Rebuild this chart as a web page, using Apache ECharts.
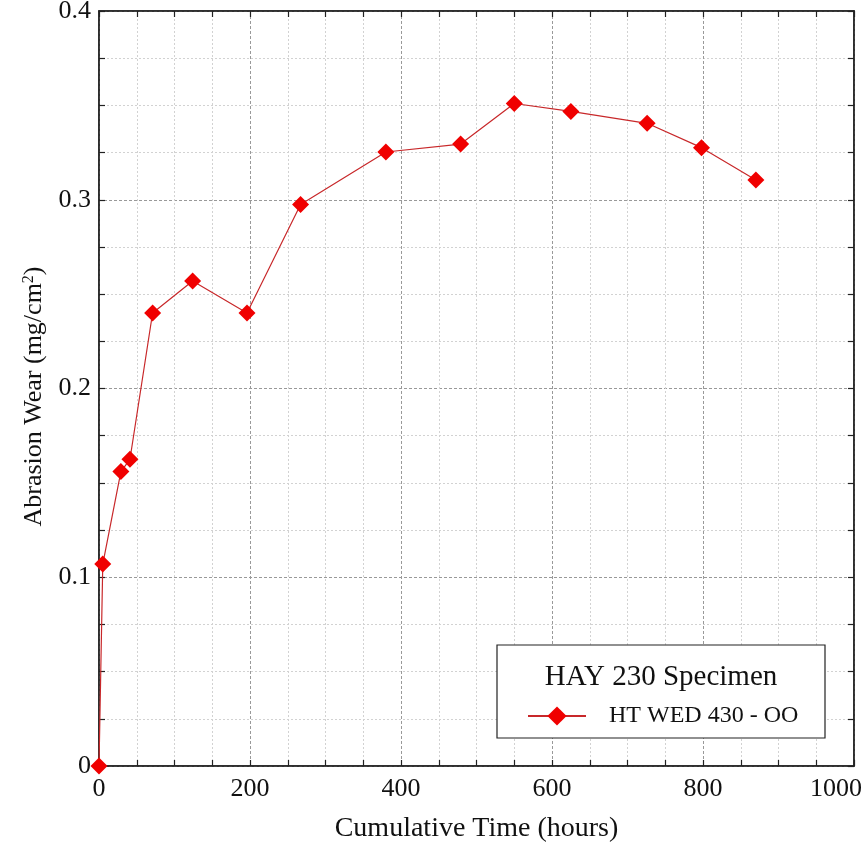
<!DOCTYPE html>
<html>
<head>
<meta charset="utf-8">
<script src="https://cdn.jsdelivr.net/npm/echarts@6/dist/echarts.min.js"></script>
<style>html,body{margin:0;padding:0;background:#fff;}#c{width:867px;height:847px;}</style>
</head>
<body>
<div id="c"></div>
<script>
var timeHours = [0, 5, 29, 41, 71, 124, 196, 267, 380, 479, 550, 625, 726, 798, 870];
var abrasionWear = [0, 0.107, 0.156, 0.1625, 0.24, 0.257, 0.24, 0.2975, 0.3253, 0.3295, 0.351, 0.3468, 0.3405, 0.3276, 0.3105];
var seriesName = 'HT WED 430 - OO';
var legendTitle = 'HAY 230 Specimen';
var xTitle = 'Cumulative Time (hours)';

var font = '"Liberation Serif","Times New Roman",serif';
var chart = echarts.init(document.getElementById('c'), null, {renderer: 'canvas'});
var pts = timeHours.map(function (t, i) { return [t, abrasionWear[i]]; });

var majorSplit = {show: true, lineStyle: {color: '#999999', type: [3, 2], width: 1}};
var minorSplit = {show: true, lineStyle: {color: '#d2d2d2', type: [2, 2], width: 1}};
function tick() { return {show: true, inside: true, length: 6, lineStyle: {color: '#222', width: 1.2}}; }
function minorTick() { return {show: true, splitNumber: 4, length: 6, lineStyle: {color: '#222', width: 1.2}}; }
function axLine() { return {show: true, onZero: false, lineStyle: {color: '#222', width: 1.5}}; }

chart.setOption({
  backgroundColor: '#fff',
  animation: false,
  grid: {left: 99, top: 11, width: 755, height: 755, outerBoundsMode: 'none', containLabel: false,
    show: true, borderColor: '#222', borderWidth: 1.5, backgroundColor: 'transparent'},
  xAxis: [{
    type: 'value', min: 0, max: 1000, interval: 200, position: 'bottom',
    name: xTitle, nameLocation: 'middle', nameGap: 49,
    nameTextStyle: {fontFamily: font, fontSize: 28, color: '#111'},
    axisLine: axLine(), axisTick: tick(), minorTick: minorTick(),
    axisLabel: {fontFamily: font, fontSize: 26, color: '#111', margin: 10,
      formatter: function (v) { return v === 1000 ? '{r|' + v + '}' : String(v); },
      rich: {r: {fontFamily: font, fontSize: 26, color: '#111', padding: [0, 36, 0, 0]}}},
    splitLine: majorSplit, minorSplitLine: minorSplit
  }, {
    type: 'value', min: 0, max: 1000, interval: 200, position: 'top',
    axisLine: axLine(), axisTick: tick(), minorTick: minorTick(), axisLabel: {show: false},
    splitLine: {show: false}
  }],
  yAxis: [{
    type: 'value', min: 0, max: 0.4, interval: 0.1, position: 'left',
    name: 'Abrasion Wear (mg/cm{sup|2})', nameLocation: 'middle', nameGap: 50,
    nameTextStyle: {fontFamily: font, fontSize: 26, color: '#111', padding: [0, 16, 0, 0],
      rich: {sup: {fontFamily: font, fontSize: 16, color: '#111', verticalAlign: 'bottom', padding: [0, 0, 12, 0]}}},
    axisLine: axLine(), axisTick: tick(), minorTick: minorTick(),
    axisLabel: {fontFamily: font, fontSize: 26, color: '#111', margin: 8},
    splitLine: majorSplit, minorSplitLine: minorSplit
  }, {
    type: 'value', min: 0, max: 0.4, interval: 0.1, position: 'right',
    axisLine: axLine(), axisTick: tick(), minorTick: minorTick(), axisLabel: {show: false},
    splitLine: {show: false}
  }],
  legend: {
    show: true, z: 100, left: 522, top: 699, itemWidth: 58, itemHeight: 24,
    data: [seriesName],
    textStyle: {fontFamily: font, fontSize: 24, color: '#111', padding: [0, 0, 0, 18]}
  },
  graphic: [
    {type: 'rect', z: 90, shape: {x: 497, y: 645, width: 328, height: 93}, style: {fill: '#fff', stroke: '#222', lineWidth: 1.2}},
    {type: 'text', z: 91, x: 661, y: 677, style: {text: legendTitle, font: '29px ' + font, fill: '#111', textAlign: 'center', textVerticalAlign: 'middle'}}
  ],
  series: [{
    name: seriesName, type: 'line', data: pts, xAxisIndex: 0, yAxisIndex: 0,
    symbol: 'diamond', symbolSize: 17, showAllSymbol: true,
    itemStyle: {color: '#f00000'},
    lineStyle: {color: '#c8282a', width: 1.2},
    z: 5
  }]
});
</script>
</body>
</html>
